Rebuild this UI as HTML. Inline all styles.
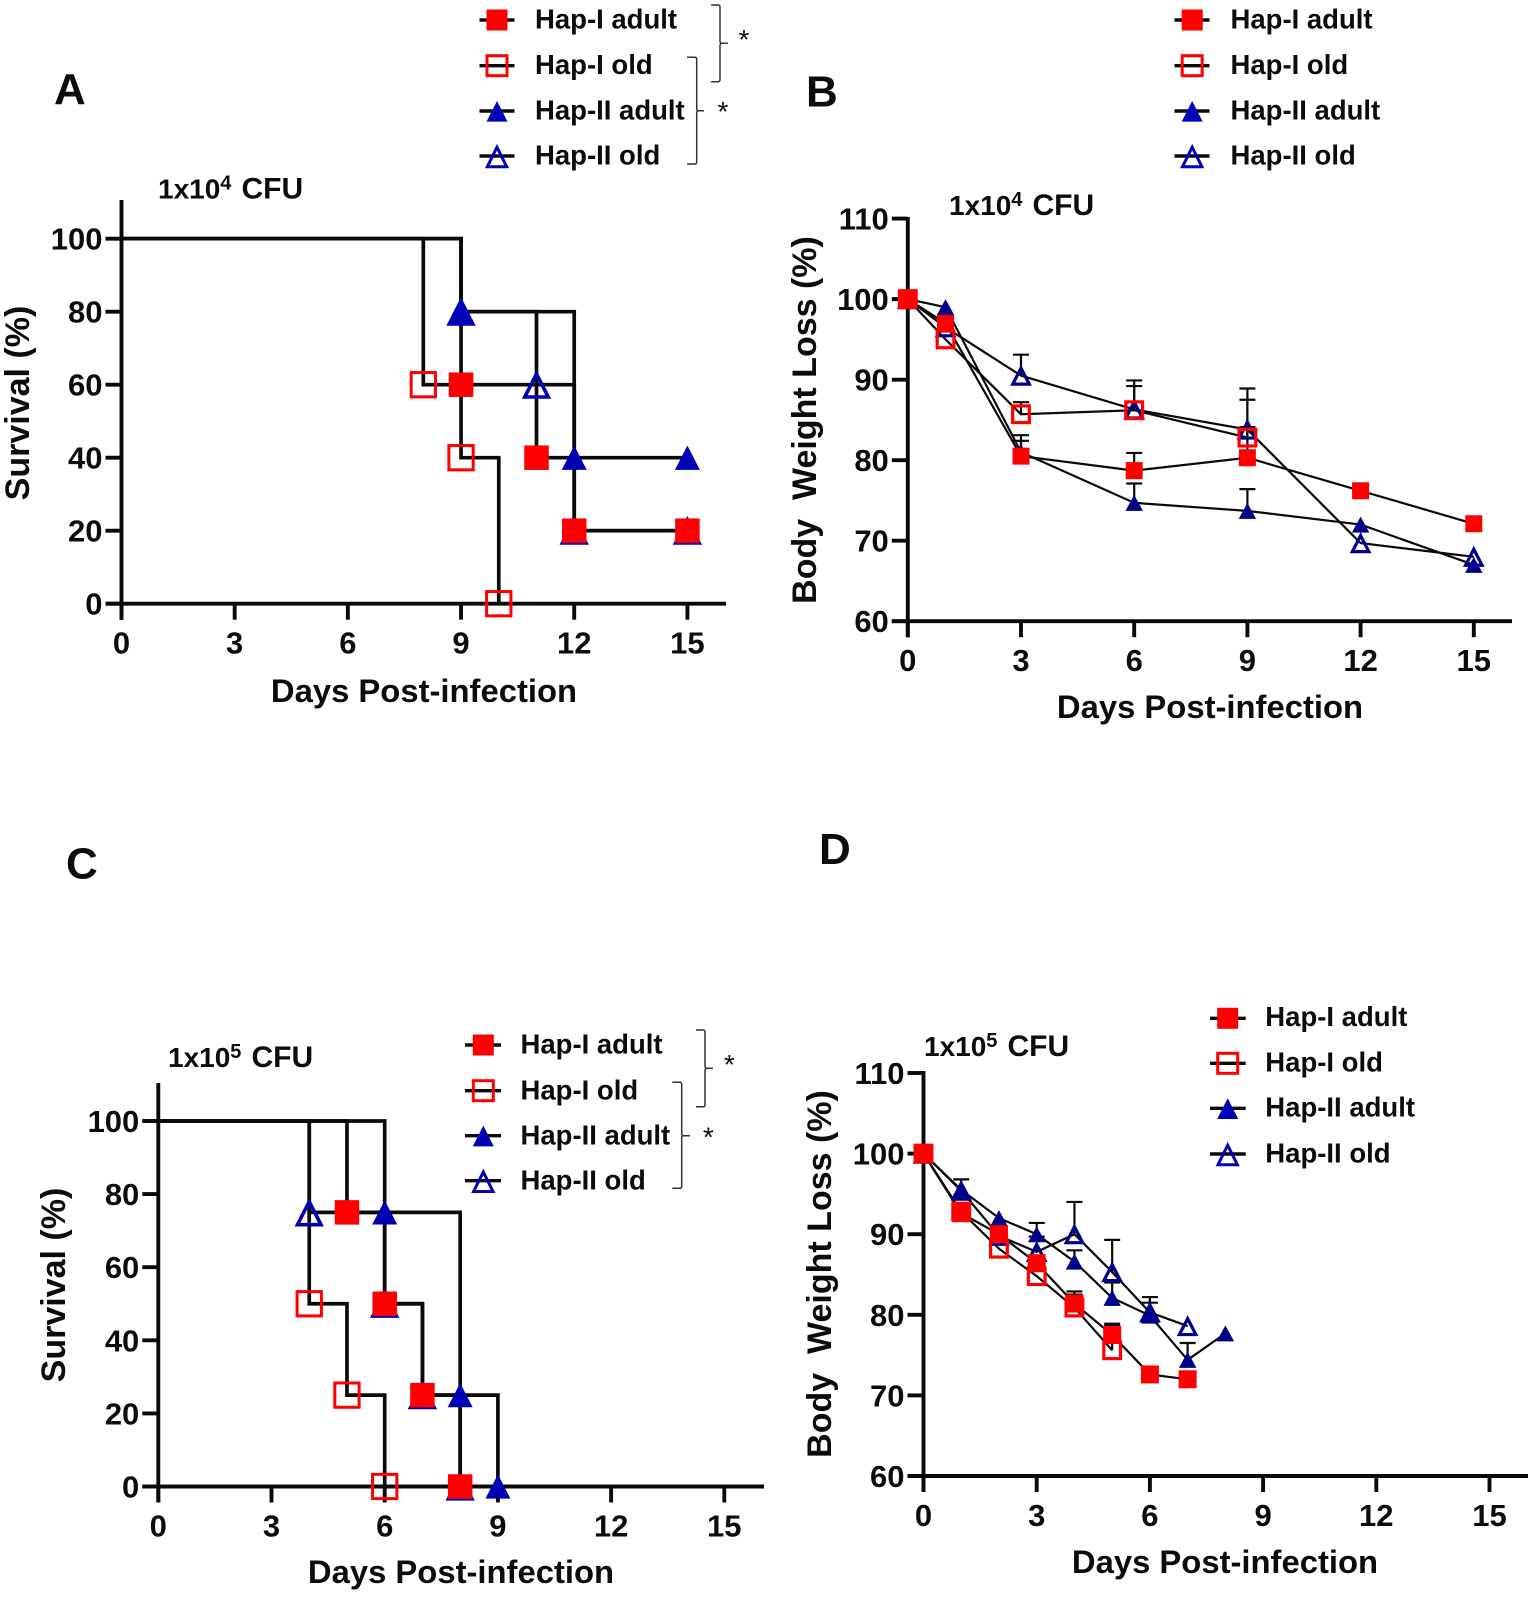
<!DOCTYPE html>
<html lang="en">
<head>
<meta charset="utf-8">
<title>Survival and body weight panels</title>
<style>
html,body{margin:0;padding:0;background:#fff;}
svg{display:block;}
text{font-family:"Liberation Sans",Arial,sans-serif;font-weight:700;fill:#0c0c0c;white-space:pre;}
.tick{font-size:31px;}
.axt{font-size:32.8px;}
.ytt{font-size:34px;}
.leg{font-size:27.5px;}
.cfu{font-size:28px;}
.let{font-size:44px;}
.brk{fill:none;stroke:#333;stroke-width:1.5;}
.star{font-size:28px;font-weight:400;}
</style>
</head>
<body>
<svg id="fig" xmlns="http://www.w3.org/2000/svg" width="1535" height="1597" viewBox="0 0 1535 1597">
<rect width="1535" height="1597" fill="#fff"/>

<g id="panelA">
  <text class="let" x="54" y="104">A</text>
  <text class="cfu" x="158" y="198.5">1x10<tspan font-size="20" dy="-9">4</tspan><tspan font-size="30" x="241.5" dy="9">CFU</tspan></text>
  <text class="axt" x="424" y="702" text-anchor="middle">Days Post-infection</text>
  <text class="ytt" transform="translate(29,403) rotate(-90)" text-anchor="middle">Survival (%)</text>
  <path class="brk" d="M711 5 H718 Q720 5 720 7 V41 Q720 43.3 722 43.3 H728 M722 43.3 Q720 43.3 720 46 V79.5 Q720 81.7 718 81.7 H711"/>
  <text class="star" x="744" y="49" text-anchor="middle">*</text>
  <path class="brk" d="M687 57.3 H694.7 Q696.7 57.3 696.7 59.3 V108.5 Q696.7 110.7 698.7 110.7 H704 M698.7 110.7 Q696.7 110.7 696.7 113 V162 Q696.7 164 694.7 164 H687"/>
  <text class="star" x="723" y="121" text-anchor="middle">*</text>
</g>

<g id="panelB">
  <text class="let" x="806" y="106.5">B</text>
  <text class="cfu" x="949" y="215">1x10<tspan font-size="20" dy="-9">4</tspan><tspan font-size="30" x="1032.5" dy="9">CFU</tspan></text>
  <text class="axt" x="1210" y="718" text-anchor="middle">Days Post-infection</text>
  <text class="ytt" transform="translate(816,420) rotate(-90)" text-anchor="middle">Body  Weight Loss (%)</text>
</g>

<g id="panelC">
  <text class="let" x="66" y="878.5">C</text>
  <text class="cfu" x="168" y="1067">1x10<tspan font-size="20" dy="-9">5</tspan><tspan font-size="30" x="251.5" dy="9">CFU</tspan></text>
  <text class="axt" x="461" y="1583" text-anchor="middle">Days Post-infection</text>
  <text class="ytt" transform="translate(65,1285) rotate(-90)" text-anchor="middle">Survival (%)</text>
  <path class="brk" d="M696 1030 H703 Q705 1030 705 1032 V1066 Q705 1068.3 707 1068.3 H713 M707 1068.3 Q705 1068.3 705 1071 V1104.7 Q705 1106.7 703 1106.7 H696"/>
  <text class="star" x="729.3" y="1074" text-anchor="middle">*</text>
  <path class="brk" d="M672.3 1082.3 H679.7 Q681.7 1082.3 681.7 1084.3 V1133.5 Q681.7 1135.7 683.7 1135.7 H690 M683.7 1135.7 Q681.7 1135.7 681.7 1138 V1186.3 Q681.7 1188.3 679.7 1188.3 H672.3"/>
  <text class="star" x="708.3" y="1146.5" text-anchor="middle">*</text>
</g>

<g id="panelD">
  <text class="let" x="819" y="864">D</text>
  <text class="cfu" x="924" y="1056">1x10<tspan font-size="20" dy="-9">5</tspan><tspan font-size="30" x="1007.5" dy="9">CFU</tspan></text>
  <text class="axt" x="1225" y="1573" text-anchor="middle">Days Post-infection</text>
  <text class="ytt" transform="translate(831,1274) rotate(-90)" text-anchor="middle">Body  Weight Loss (%)</text>
</g>

<g id="legendA">
  <text class="leg" x="535" y="28.5">Hap-I adult</text>
  <text class="leg" x="535" y="74">Hap-I old</text>
  <text class="leg" x="535" y="119.5">Hap-II adult</text>
  <text class="leg" x="535" y="164.5">Hap-II old</text>
</g>
<g id="legendB">
  <text class="leg" x="1230.5" y="28.5">Hap-I adult</text>
  <text class="leg" x="1230.5" y="74">Hap-I old</text>
  <text class="leg" x="1230.5" y="119.5">Hap-II adult</text>
  <text class="leg" x="1230.5" y="164.5">Hap-II old</text>
</g>
<g id="legendC">
  <text class="leg" x="520.5" y="1053.5">Hap-I adult</text>
  <text class="leg" x="520.5" y="1099.3">Hap-I old</text>
  <text class="leg" x="520.5" y="1144.3">Hap-II adult</text>
  <text class="leg" x="520.5" y="1189.3">Hap-II old</text>
</g>
<g id="legendD">
  <text class="leg" x="1265.3" y="1026">Hap-I adult</text>
  <text class="leg" x="1265.3" y="1071.7">Hap-I old</text>
  <text class="leg" x="1265.3" y="1116.7">Hap-II adult</text>
  <text class="leg" x="1265.3" y="1162.3">Hap-II old</text>
</g>
</svg>

<script>
/* ---------- shared tick data ---------- */
const dayTicks = [0, 3, 6, 9, 12, 15];
const survivalTicks = [0, 20, 40, 60, 80, 100];
const weightTicks = [60, 70, 80, 90, 100, 110];

/* ---------- Panel A: survival, 1x10^4 CFU ---------- */
const aHapIAdultDays = [9, 11, 12, 15];
const aHapIAdultValues = [60, 40, 20, 20];
const aHapIOldDays = [8, 9, 10];
const aHapIOldValues = [60, 40, 0];
const aHapIIAdultDays = [9, 12, 15];
const aHapIIAdultValues = [80, 40, 40];
const aHapIIOldDays = [9, 11, 12, 15];
const aHapIIOldValues = [80, 60, 20, 20];

/* ---------- Panel C: survival, 1x10^5 CFU ---------- */
const cHapIAdultDays = [5, 6, 7, 8];
const cHapIAdultValues = [75, 50, 25, 0];
const cHapIOldDays = [4, 5, 6];
const cHapIOldValues = [50, 25, 0];
const cHapIIAdultDays = [6, 8, 9];
const cHapIIAdultValues = [75, 25, 0];
const cHapIIOldDays = [4, 6, 7, 8];
const cHapIIOldValues = [75, 50, 25, 0];

/* ---------- Panel B: body weight, 1x10^4 CFU ---------- */
const bHapIAdultDays = [0, 1, 3, 6, 9, 12, 15];
const bHapIAdultValues = [100, 97, 80.5, 78.7, 80.3, 76.2, 72.1];
const bHapIAdultErrors = [0, 0, 1.9, 2.2, 3.8, 0, 0];
const bHapIOldDays = [0, 1, 3, 6, 9];
const bHapIOldValues = [100, 95, 85.7, 86.2, 82.8];
const bHapIOldErrors = [0, 0, 1.5, 3.0, 4.7];
const bHapIIAdultDays = [0, 1, 3, 6, 9, 12, 15];
const bHapIIAdultValues = [100, 99, 81, 74.7, 73.7, 72, 67];
const bHapIIAdultErrors = [0, 0, 2.1, 2.4, 2.7, 0, 0];
const bHapIIOldDays = [0, 1, 3, 6, 9, 12, 15];
const bHapIIOldValues = [100, 96.5, 90.5, 86.3, 83.8, 69.7, 68];
const bHapIIOldErrors = [0, 0, 2.6, 3.6, 5.1, 0, 0];

/* ---------- Panel D: body weight, 1x10^5 CFU ---------- */
const dHapIAdultDays = [0, 1, 2, 3, 4, 5, 6, 7];
const dHapIAdultValues = [100, 92.6, 90, 86.4, 81.4, 77.5, 72.6, 72];
const dHapIAdultErrors = [0, 0, 0, 0, 1.5, 1.4, 0, 0];
const dHapIOldDays = [0, 1, 2, 3, 4, 5];
const dHapIOldValues = [100, 92.8, 88.2, 84.8, 80.9, 75.6];
const dHapIOldErrors = [0, 0, 0, 0, 1.6, 3.1];
const dHapIIAdultDays = [0, 1, 2, 3, 4, 5, 6, 7, 8];
const dHapIIAdultValues = [100, 95.5, 92, 90, 86.6, 82.1, 79.9, 74.4, 77.7];
const dHapIIAdultErrors = [0, 1.3, 0, 1.4, 1.4, 1.9, 2.3, 2.1, 0];
const dHapIIOldDays = [0, 1, 2, 3, 4, 5, 6, 7];
const dHapIIOldValues = [100, 95.4, 89.8, 87.8, 90, 85.3, 80.3, 78.6];
const dHapIIOldErrors = [0, 0, 0, 1.9, 4, 4, 1.2, 0];

const NS = 'http://www.w3.org/2000/svg';
const BLACK = '#0a0a0a';
const RED = '#ff0000';
const BLUE = '#0000b4';
const NAVY = '#000088';

function mk(parent, tag, attrs) {
  const el = document.createElementNS(NS, tag);
  for (const k in attrs) el.setAttribute(k, attrs[k]);
  parent.appendChild(el);
  return el;
}

function linearScale(d0, r0, d1, r1) {
  return v => r0 + (v - d0) * (r1 - r0) / (d1 - d0);
}

function squareMark(parent, cx, cy, size, filled, sw, name) {
  const el = filled
    ? mk(parent, 'rect', {x: cx - size / 2, y: cy - size / 2, width: size, height: size, fill: RED})
    : mk(parent, 'rect', {x: cx - size / 2, y: cy - size / 2, width: size, height: size, fill: 'none', stroke: RED, 'stroke-width': sw});
  
  
}

function triangleMark(parent, cx, cy, w, h, filled, sw, color, name) {
  const pts = [[cx, cy - h / 2], [cx + w / 2, cy + h / 2], [cx - w / 2, cy + h / 2]].map(p => p.join(',')).join(' ');
  const el = filled
    ? mk(parent, 'polygon', {points: pts, fill: color})
    : mk(parent, 'polygon', {points: pts, fill: 'none', stroke: color, 'stroke-width': sw, 'stroke-linejoin': 'miter', 'stroke-miterlimit': 6});
  
  
}

function drawAxes(g, cfg, xs, ys, xTicks, yTicks) {
  const x0 = xs(0), yb = ys(yTicks[0]);
  const yAxis = mk(g, 'line', {x1: x0, x2: x0, y1: cfg.yTop, y2: yb + 16, stroke: BLACK, 'stroke-width': 3.9});
  
  
  const xAxis = mk(g, 'line', {x1: x0 - 16, x2: cfg.xEnd, y1: yb, y2: yb, stroke: BLACK, 'stroke-width': 3.9});
  
  
  xTicks.forEach(t => {
    const tk = mk(g, 'line', {x1: xs(t), x2: xs(t), y1: yb, y2: yb + 16, stroke: BLACK, 'stroke-width': 3.9});
    
    
    const lb = mk(g, 'text', {x: xs(t), y: yb + 50, 'text-anchor': 'middle', class: 'tick'});
    lb.textContent = t;
    
    
  });
  yTicks.forEach(t => {
    const tk = mk(g, 'line', {x1: x0 - 16, x2: x0, y1: ys(t), y2: ys(t), stroke: BLACK, 'stroke-width': 3.9});
    
    
    const lb = mk(g, 'text', {x: x0 - 19, y: ys(t) + 11, 'text-anchor': 'end', class: 'tick'});
    lb.textContent = t;
    
    
  });
}

function drawSurvival(g, xs, ys, series) {
  series.forEach(s => {
    let d = 'M' + xs(0) + ' ' + ys(100);
    s.days.forEach((day, i) => {
      d += ' H' + xs(day) + ' V' + ys(s.values[i]);
    });
    const p = mk(g, 'path', {d: d, fill: 'none', stroke: BLACK, 'stroke-width': 3.7});
    
    
  });
  series.forEach(s => {
    s.days.forEach((day, i) => {
      const cx = xs(day), cy = ys(s.values[i]);
      if (s.type === 'sf') squareMark(g, cx, cy, 24.5, true, 0, s.name + '-point');
      if (s.type === 'so') squareMark(g, cx, cy, 24.3, false, 3, s.name + '-point');
      if (s.type === 'tf') triangleMark(g, cx, cy, 25, 24.3, true, 0, BLUE, s.name + '-point');
      if (s.type === 'to') triangleMark(g, cx, cy + 0.8, 23.5, 23, false, 3.6, BLUE, s.name + '-point');
    });
  });
}

function drawWeight(g, xs, ys, series, squareSize) {
  series.forEach(s => {
    const pts = s.days.map((day, i) => xs(day) + ',' + ys(s.values[i])).join(' ');
    const pl = mk(g, 'polyline', {points: pts, fill: 'none', stroke: BLACK, 'stroke-width': 2.2});
    
    
    s.days.forEach((day, i) => {
      if (!s.errors[i]) return;
      const top = ys(s.values[i] + s.errors[i]);
      const st = mk(g, 'path', {d: 'M' + xs(day) + ' ' + ys(s.values[i]) + ' V' + top + ' M' + (xs(day) - 8) + ' ' + top + ' H' + (xs(day) + 8), fill: 'none', stroke: BLACK, 'stroke-width': 2.2});
      
      
    });
  });
  series.forEach(s => {
    s.days.forEach((day, i) => {
      const cx = xs(day), cy = ys(s.values[i]);
      if (s.type === 'sf') squareMark(g, cx, cy, squareSize, true, 0, s.name + '-point');
      if (s.type === 'so') squareMark(g, cx, cy, 16.7, false, 3.2, s.name + '-point');
      if (s.type === 'tf') triangleMark(g, cx, cy, 17.5, 16, true, 0, NAVY, s.name + '-point');
      if (s.type === 'to') triangleMark(g, cx, cy + 0.5, 16.5, 16, false, 3.2, NAVY, s.name + '-point');
    });
  });
}

function drawLegend(id, lineX1, lineX2, cx, rows) {
  const g = document.getElementById(id);
  const items = ['sf', 'so', 'tf', 'to'];
  items.forEach((type, i) => {
    const y = rows[i];
    const ln = mk(g, 'line', {x1: lineX1, x2: lineX2, y1: y, y2: y, stroke: BLACK, 'stroke-width': 3.4});
    
    
    if (type === 'sf') squareMark(g, cx, y, 21, true, 0, 'legend-marker-hap-i-adult');
    if (type === 'so') squareMark(g, cx, y, 20, false, 3, 'legend-marker-hap-i-old');
    if (type === 'tf') triangleMark(g, cx, y + 0.3, 21, 20.7, true, 0, BLUE, 'legend-marker-hap-ii-adult');
    if (type === 'to') triangleMark(g, cx, y + 1, 19.4, 19.5, false, 3, BLUE, 'legend-marker-hap-ii-old');
  });
}

/* ---------- Build panels ---------- */
(function () {
  const xA = linearScale(0, 121.5, 15, 687.4);
  const yA = linearScale(0, 603.7, 100, 238.7);
  const gA = document.getElementById('panelA');
  drawAxes(gA, {yTop: 200, xEnd: 726}, xA, yA, dayTicks, survivalTicks);
  drawSurvival(gA, xA, yA, [
    {name: 'hap-ii-old', type: 'to', days: aHapIIOldDays, values: aHapIIOldValues},
    {name: 'hap-ii-adult', type: 'tf', days: aHapIIAdultDays, values: aHapIIAdultValues},
    {name: 'hap-i-old', type: 'so', days: aHapIOldDays, values: aHapIOldValues},
    {name: 'hap-i-adult', type: 'sf', days: aHapIAdultDays, values: aHapIAdultValues}
  ]);

  const xC = linearScale(0, 158.3, 15, 724.3);
  const yC = linearScale(0, 1486.5, 100, 1121);
  const gC = document.getElementById('panelC');
  drawAxes(gC, {yTop: 1083, xEnd: 764}, xC, yC, dayTicks, survivalTicks);
  drawSurvival(gC, xC, yC, [
    {name: 'hap-ii-old', type: 'to', days: cHapIIOldDays, values: cHapIIOldValues},
    {name: 'hap-ii-adult', type: 'tf', days: cHapIIAdultDays, values: cHapIIAdultValues},
    {name: 'hap-i-old', type: 'so', days: cHapIOldDays, values: cHapIOldValues},
    {name: 'hap-i-adult', type: 'sf', days: cHapIAdultDays, values: cHapIAdultValues}
  ]);

  const xB = linearScale(0, 907.8, 15, 1473.8);
  const yB = linearScale(60, 621.2, 110, 218.6);
  const gB = document.getElementById('panelB');
  drawAxes(gB, {yTop: 217, xEnd: 1512}, xB, yB, dayTicks, weightTicks);
  drawWeight(gB, xB, yB, [
    {name: 'hap-ii-old', type: 'to', days: bHapIIOldDays, values: bHapIIOldValues, errors: bHapIIOldErrors},
    {name: 'hap-ii-adult', type: 'tf', days: bHapIIAdultDays, values: bHapIIAdultValues, errors: bHapIIAdultErrors},
    {name: 'hap-i-old', type: 'so', days: bHapIOldDays, values: bHapIOldValues, errors: bHapIOldErrors},
    {name: 'hap-i-adult', type: 'sf', days: bHapIAdultDays, values: bHapIAdultValues, errors: bHapIAdultErrors}
  ], 17);

  const xD = linearScale(0, 923.5, 15, 1489.5);
  const yD = linearScale(60, 1476, 110, 1073);
  const gD = document.getElementById('panelD');
  drawAxes(gD, {yTop: 1071, xEnd: 1528}, xD, yD, dayTicks, weightTicks);
  drawWeight(gD, xD, yD, [
    {name: 'hap-ii-old', type: 'to', days: dHapIIOldDays, values: dHapIIOldValues, errors: dHapIIOldErrors},
    {name: 'hap-ii-adult', type: 'tf', days: dHapIIAdultDays, values: dHapIIAdultValues, errors: dHapIIAdultErrors},
    {name: 'hap-i-old', type: 'so', days: dHapIOldDays, values: dHapIOldValues, errors: dHapIOldErrors},
    {name: 'hap-i-adult', type: 'sf', days: dHapIAdultDays, values: dHapIAdultValues, errors: dHapIAdultErrors}
  ], 18);

  drawLegend('legendA', 479.5, 514.5, 497, [20, 65.7, 111, 156]);
  drawLegend('legendB', 1174.5, 1209.5, 1192.2, [20, 65.7, 111, 156]);
  drawLegend('legendC', 465, 501, 483.3, [1045, 1090.7, 1135.7, 1180.7]);
  drawLegend('legendD', 1210, 1245.7, 1227.7, [1018.3, 1063.3, 1108.3, 1154]);
})();
</script>
</body>
</html>
